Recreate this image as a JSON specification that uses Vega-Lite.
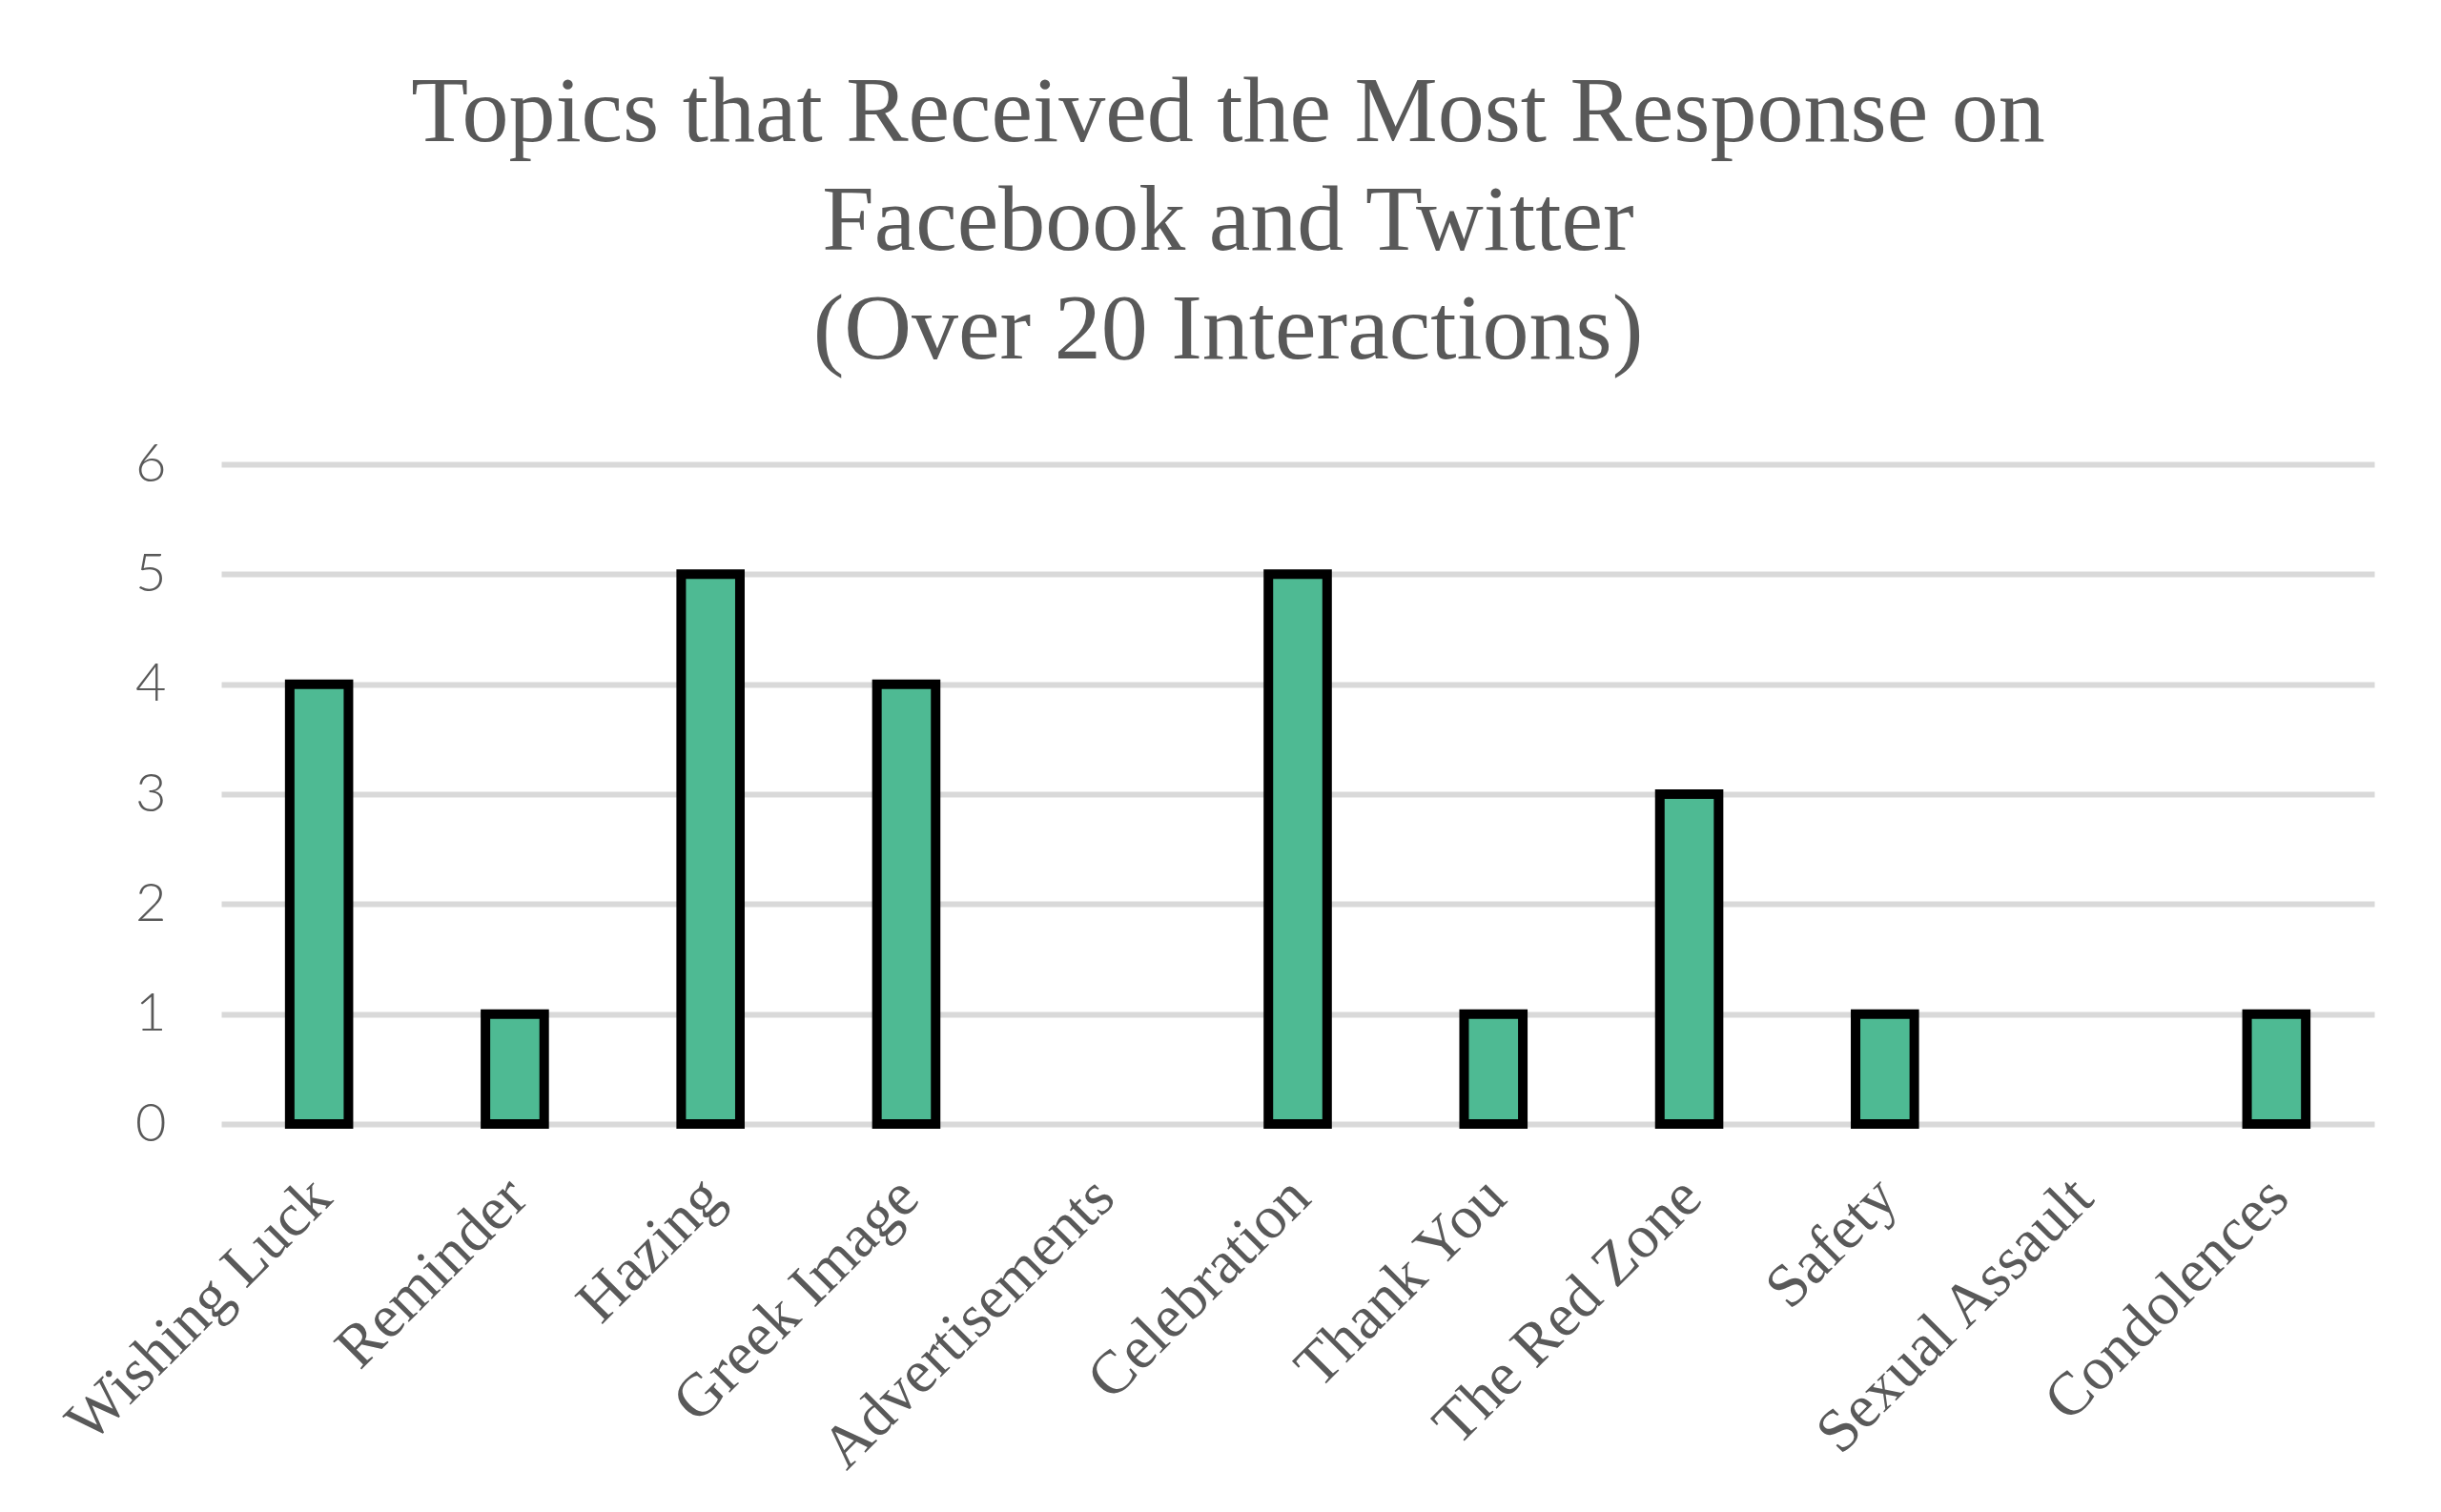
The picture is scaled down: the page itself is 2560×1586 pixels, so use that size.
{
  "$schema": "https://vega.github.io/schema/vega-lite/v6.json",
  "width": 2258,
  "height": 692,
  "autosize": {"type": "none"},
  "padding": {"left": 232, "top": 487, "right": 70, "bottom": 407},
  "background": "white",
  "title": {
    "text": ["Topics that Received the Most Response on", "Facebook and Twitter", "(Over 20 Interactions)"],
    "font": "Liberation Serif",
    "fontSize": 98,
    "fontWeight": "normal",
    "color": "#595959",
    "lineHeight": 114,
    "anchor": "middle",
    "frame": "group",
    "dx": -73,
    "offset": 62
  },
  "data": {
    "values": [
      {"topic": "Wishing Luck", "n": 4},
      {"topic": "Reminder", "n": 1},
      {"topic": "Hazing", "n": 5},
      {"topic": "Greek Image", "n": 4},
      {"topic": "Advertisements", "n": 0},
      {"topic": "Celebration", "n": 5},
      {"topic": "Thank You", "n": 1},
      {"topic": "The Red Zone", "n": 3},
      {"topic": "Safety", "n": 1},
      {"topic": "Sexual Assault", "n": 0},
      {"topic": "Condolences", "n": 1}
    ]
  },
  "mark": {"type": "bar", "fill": "#4EBA93", "stroke": "#000000", "strokeWidth": 10},
  "encoding": {
    "x": {
      "field": "topic",
      "type": "nominal",
      "sort": null,
      "scale": {"paddingInner": 0.7, "paddingOuter": 0.35},
      "axis": {
        "title": null,
        "labelAngle": -45,
        "labelFont": "Liberation Serif",
        "labelFontSize": 64,
        "labelColor": "#595959",
        "labelPadding": 44,
        "labelOffset": -20,
        "labelLimit": 0,
        "labelOverlap": false,
        "ticks": false,
        "domain": false,
        "grid": false
      }
    },
    "y": {
      "field": "n",
      "type": "quantitative",
      "scale": {"domain": [0, 6], "nice": false},
      "axis": {
        "title": null,
        "values": [0, 1, 2, 3, 4, 5, 6],
        "labelFont": "Lato",
        "labelFontSize": 56,
        "labelFontWeight": 300,
        "labelColor": "#595959",
        "labelPadding": 58,
        "ticks": false,
        "domain": false,
        "grid": true,
        "gridColor": "#D9D9D9",
        "gridWidth": 6,
        "zindex": 0
      }
    },
    "strokeOpacity": {"condition": {"test": "datum.n > 0", "value": 1}, "value": 0}
  },
  "config": {"view": {"stroke": null}}
}
